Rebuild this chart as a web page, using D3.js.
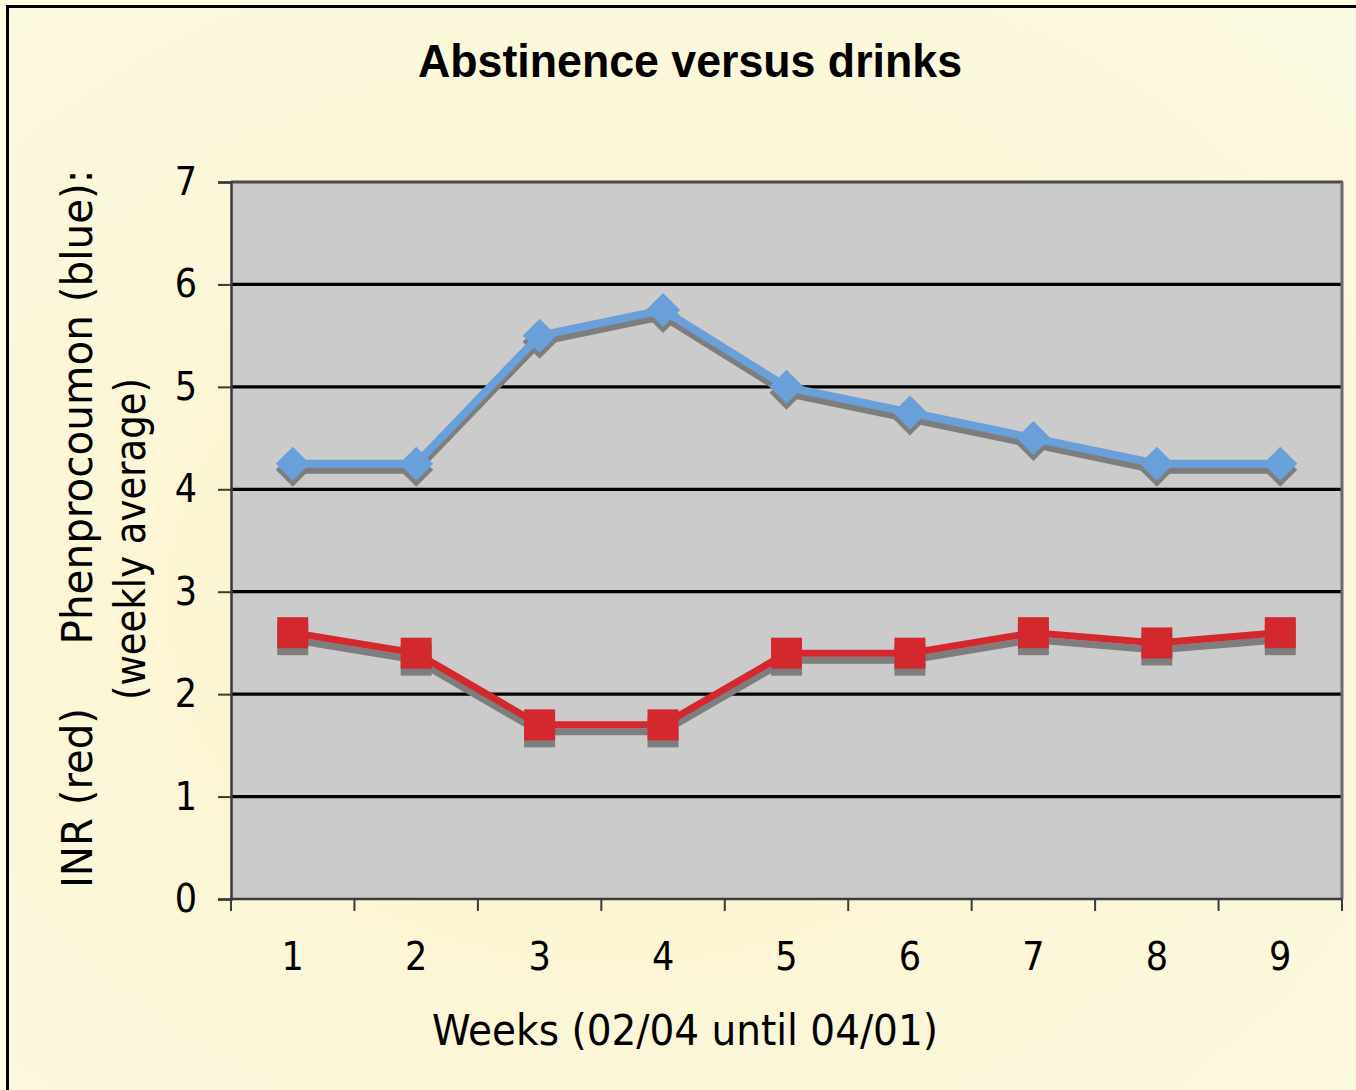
<!DOCTYPE html>
<html>
<head>
<meta charset="utf-8">
<script src="https://cdn.jsdelivr.net/npm/d3@7/dist/d3.min.js"></script>
<style>
  html, body { margin: 0; padding: 0; background: #ffffe0; }
  svg { display: block; }
</style>
</head>
<body>
<script>
const weeks = ["1", "2", "3", "4", "5", "6", "7", "8", "9"];
const phenprocoumon = [4.25, 4.25, 5.5, 5.75, 5.0, 4.75, 4.5, 4.25, 4.25];
const inr = [2.6, 2.4, 1.7, 1.7, 2.4, 2.4, 2.6, 2.5, 2.6];
const yTicks = [0, 1, 2, 3, 4, 5, 6, 7];
const titleText = "Abstinence versus drinks";
const xTitle = "Weeks (02/04 until 04/01)";
const yTitleA = "INR (red)";
const yTitleB = "Phenprocoumon (blue):";
const yTitleC = "(weekly average)";

const W = 1356, H = 1090;
const svg = d3.select("body").append("svg").attr("width", W).attr("height", H);

const defs = svg.append("defs");
const rg = defs.append("radialGradient").attr("id", "bg")
  .attr("cx", "45%").attr("cy", "55%").attr("r", "75%");
rg.append("stop").attr("offset", "0%").attr("stop-color", "#fcf3cc");
rg.append("stop").attr("offset", "100%").attr("stop-color", "#fbf9e0");

// outer strip + frame
svg.append("rect").attr("x", 0).attr("y", 0).attr("width", W).attr("height", H).attr("fill", "#ffffe0");
svg.append("rect").attr("x", 9).attr("y", 8).attr("width", W - 9).attr("height", H - 8).attr("fill", "url(#bg)");
svg.append("line").attr("x1", 7.5).attr("x2", W).attr("y1", 6.5).attr("y2", 6.5).attr("stroke", "#000").attr("stroke-width", 3);
svg.append("line").attr("x1", 7.5).attr("x2", 7.5).attr("y1", 5).attr("y2", H).attr("stroke", "#000").attr("stroke-width", 3);

const L = 231, R = 1342, T = 182, B = 899;
const x = d3.scaleBand().domain(weeks).range([L, R]).padding(0);
const y = d3.scaleLinear().domain([0, 7]).range([B, T]);

// plot area
svg.append("rect").attr("x", L).attr("y", T).attr("width", R - L).attr("height", B - T).attr("fill", "#cbcbcb");

// gridlines
svg.append("g").selectAll("line").data(yTicks.filter(d => d > 0 && d < 7)).join("line")
  .attr("x1", L).attr("x2", R).attr("y1", d => y(d)).attr("y2", d => y(d))
  .attr("stroke", "#000").attr("stroke-width", 3.2);

// top and right border of plot area
svg.append("line").attr("x1", L).attr("x2", R + 1).attr("y1", T).attr("y2", T).attr("stroke", "#4a4a4a").attr("stroke-width", 3);
svg.append("line").attr("x1", R).attr("x2", R).attr("y1", T).attr("y2", B).attr("stroke", "#6a6a6a").attr("stroke-width", 3);

const fontTick = "'DejaVu Sans Condensed', 'DejaVu Sans', sans-serif";

// y axis
const yAxis = svg.append("g").attr("transform", `translate(${L},0)`)
  .call(d3.axisLeft(y).tickValues(yTicks).tickSize(13).tickPadding(21).tickFormat(d3.format("d")));
yAxis.select(".domain").attr("stroke", "#3a3a3a").attr("stroke-width", 2.5);
yAxis.selectAll(".tick line").attr("stroke", "#3a3a3a").attr("stroke-width", 2);
yAxis.selectAll(".tick text").attr("font-family", fontTick).attr("font-size", 39).attr("fill", "#000");

// x axis baseline
svg.append("line").attr("x1", L).attr("x2", R).attr("y1", B).attr("y2", B).attr("stroke", "#3a3a3a").attr("stroke-width", 2.5);
const bounds = weeks.map(d => x(d)).concat([x.range()[1]]);
svg.append("g").selectAll("line").data(bounds).join("line")
  .attr("x1", d => d).attr("x2", d => d).attr("y1", B).attr("y2", B + 12)
  .attr("stroke", "#3a3a3a").attr("stroke-width", 2);
const xAxis = svg.append("g").attr("transform", `translate(0,${B})`)
  .call(d3.axisBottom(x).tickSize(0).tickPadding(43));
xAxis.select(".domain").remove();
xAxis.selectAll(".tick text").attr("font-family", fontTick).attr("font-size", 39).attr("fill", "#000");

// series
const cx = d => x(d) + x.bandwidth() / 2;
const line = d3.line().x(d => cx(d[0])).y(d => y(d[1]));
const blueData = weeks.map((w, i) => [w, phenprocoumon[i]]);
const redData = weeks.map((w, i) => [w, inr[i]]);
const shadow = "#7e7e7e";
const blue = "#6aa0d9", red = "#d3282d";

function drawSeries(data, width, marker, dx, dy, col) {
  const g = svg.append("g").attr("transform", `translate(${dx},${dy})`);
  g.append("path").datum(data).attr("d", line).attr("fill", "none")
    .attr("stroke", col).attr("stroke-width", width).attr("stroke-linejoin", "miter");
  if (marker === "diamond") {
    g.selectAll("path.m").data(data).join("path").attr("class", "m")
      .attr("d", d => { const px = cx(d[0]), py = y(d[1]), s = 17;
        return `M${px},${py - s}L${px + s},${py}L${px},${py + s}L${px - s},${py}Z`; })
      .attr("fill", col);
  } else {
    g.selectAll("rect.m").data(data).join("rect").attr("class", "m")
      .attr("x", d => cx(d[0]) - 15.5).attr("y", d => y(d[1]) - 15.5)
      .attr("width", 31).attr("height", 31).attr("fill", col);
  }
}
drawSeries(blueData, 8, "diamond", 0, 6, shadow);
drawSeries(redData, 7, "square", 0, 7, shadow);
drawSeries(blueData, 8, "diamond", 0, 0, blue);
drawSeries(redData, 7, "square", 0, 0, red);

// title
svg.append("text").attr("x", 690).attr("y", 77).attr("text-anchor", "middle")
  .attr("font-family", "'Liberation Sans', Arial, sans-serif").attr("font-weight", 900)
  .attr("font-size", 47).attr("textLength", 544).attr("lengthAdjust", "spacingAndGlyphs")
  .attr("fill", "#000").text(titleText);

// x title
svg.append("text").attr("x", 685).attr("y", 1045).attr("text-anchor", "middle")
  .attr("font-family", fontTick).attr("font-size", 43)
  .attr("textLength", 506).attr("lengthAdjust", "spacingAndGlyphs")
  .attr("fill", "#000").text(xTitle);

// y titles (rotated)
function vtext(bx, cyMid, len, str) {
  svg.append("text").attr("transform", `translate(${bx},${cyMid}) rotate(-90)`)
    .attr("text-anchor", "middle").attr("font-family", fontTick).attr("font-size", 43)
    .attr("textLength", len).attr("lengthAdjust", "spacingAndGlyphs")
    .attr("fill", "#000").text(str);
}
vtext(92, 798, 180, yTitleA);
vtext(92, 407, 475, yTitleB);
vtext(145, 539, 322, yTitleC);
</script>
</body>
</html>
